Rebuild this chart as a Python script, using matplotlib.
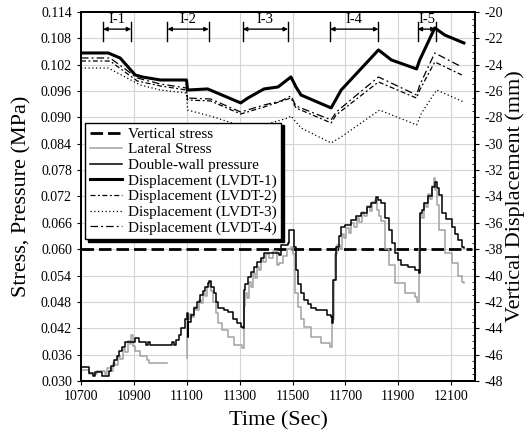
import numpy as np
import matplotlib
matplotlib.use('Agg')
import matplotlib.pyplot as plt

plt.rcParams['font.family'] = ['Liberation Serif', 'DejaVu Serif']
plt.rcParams['axes.unicode_minus'] = False

# vertical stress (MPa)
vs_time = [10700, 12180]
vs_val = [0.060, 0.060]

# lateral stress (MPa)
lat_time = [10700, 10725, 10730, 10760, 10790, 10800, 10812, 10820, 10830, 10840, 10848, 10858,
            10866, 10878, 10885, 10890, 10897, 10905, 10925, 10950, 10958, 11024, 11025, 11099,
            11100, 11102, 11112, 11120, 11128, 11136, 11145, 11152, 11162, 11170, 11178, 11184,
            11192, 11200, 11210, 11217, 11235, 11255, 11278, 11310, 11314, 11316, 11322, 11328,
            11335, 11342, 11350, 11358, 11366, 11374, 11382, 11390, 11398, 11410, 11425, 11440,
            11449, 11465, 11480, 11495, 11503, 11510, 11521, 11532, 11544, 11570, 11608, 11640,
            11648, 11650, 11655, 11662, 11670, 11678, 11686, 11694, 11702, 11712, 11722, 11732,
            11742, 11752, 11762, 11772, 11782, 11792, 11802, 11812, 11820, 11828, 11836, 11850,
            11863, 11886, 11924, 11962, 11969, 11975, 11978, 11983, 11990, 11997, 12004, 12012,
            12020, 12028, 12034, 12040, 12045, 12053, 12075, 12102, 12125, 12140, 12148]
lat_val = [0.0325, 0.0325, 0.0315, 0.0322, 0.0315, 0.0330, 0.0322, 0.0342, 0.0336, 0.0356, 0.0350, 0.0372,
           0.0366, 0.0392, 0.0385, 0.0405, 0.0380, 0.0368, 0.0356, 0.0348, 0.0341, 0.0341, np.nan, np.nan,
           0.0353, 0.0440, 0.0452, 0.0445, 0.0468, 0.0462, 0.0485, 0.0478, 0.0500, 0.0494, 0.0515, 0.0526,
           0.0505, 0.0480, 0.0455, 0.0432, 0.0415, 0.0400, 0.0382, 0.0375, 0.0375, 0.0470, 0.0500, 0.0490,
           0.0525, 0.0515, 0.0545, 0.0535, 0.0560, 0.0552, 0.0578, 0.0570, 0.0590, 0.0580, 0.0595, 0.0565,
           0.0568, 0.0585, 0.0600, 0.0605, 0.0590, 0.0500, 0.0469, 0.0440, 0.0423, 0.0400, 0.0387, 0.0378,
           0.0378, 0.0440, 0.0530, 0.0590, 0.0610, 0.0600, 0.0635, 0.0625, 0.0648, 0.0638, 0.0660, 0.0650,
           0.0672, 0.0662, 0.0685, 0.0675, 0.0698, 0.0688, 0.0708, 0.0712, 0.0690, 0.0675, 0.0665, 0.0600,
           0.0564, 0.0523, 0.0500, 0.0491, 0.0480, 0.0480, 0.0600, 0.0680, 0.0670, 0.0705, 0.0695, 0.0725,
           0.0715, 0.0745, 0.0762, 0.0735, 0.0700, 0.0644, 0.0591, 0.0569, 0.0540, 0.0526, 0.0523]

# double-wall pressure (MPa)
dw_time = [10700, 10727, 10730, 10746, 10753, 10772, 10780, 10795, 10805, 10815, 10825, 10835,
           10845, 10855, 10865, 10900, 10905, 10915, 10920, 10940, 10945, 10955, 10962, 11040,
           11045, 11050, 11060, 11070, 11080, 11092, 11100, 11103, 11106, 11115, 11126, 11140,
           11150, 11160, 11170, 11179, 11183, 11190, 11202, 11210, 11217, 11240, 11255, 11275,
           11290, 11304, 11312, 11316, 11322, 11331, 11342, 11354, 11366, 11380, 11392, 11430,
           11449, 11456, 11484, 11485, 11502, 11506, 11513, 11522, 11532, 11544, 11557, 11570,
           11590, 11620, 11630, 11646, 11649, 11652, 11654, 11665, 11675, 11684, 11700, 11722,
           11740, 11760, 11780, 11798, 11817, 11825, 11836, 11850, 11863, 11875, 11886, 11900,
           11912, 11935, 11962, 11977, 11979, 11981, 11990, 11999, 12012, 12026, 12038, 12045,
           12053, 12064, 12080, 12102, 12115, 12125, 12140, 12148]
dw_val = [0.0332, 0.0332, 0.0318, 0.0312, 0.0320, 0.0320, 0.0312, 0.0312, 0.0322, 0.0335, 0.0348, 0.0358,
          0.0368, 0.0378, 0.0389, 0.0389, 0.0398, 0.0398, 0.0389, 0.0389, 0.0382, 0.0389, 0.0382, 0.0382,
          0.0389, 0.0382, 0.0394, 0.0405, 0.0420, 0.0440, 0.0455, 0.0400, 0.0434, 0.0450, 0.0466, 0.0480,
          0.0495, 0.0505, 0.0515, 0.0523, 0.0528, 0.0515, 0.0500, 0.0480, 0.0466, 0.0462, 0.0457, 0.0440,
          0.0432, 0.0423, 0.0421, 0.0507, 0.0520, 0.0537, 0.0548, 0.0560, 0.0570, 0.0580, 0.0591, 0.0591,
          0.0587, 0.0610, 0.0614, 0.0644, 0.0644, 0.0605, 0.0553, 0.0520, 0.0500, 0.0485, 0.0475, 0.0466,
          0.0462, 0.0462, 0.0450, 0.0446, 0.0432, 0.0432, 0.0530, 0.0605, 0.0630, 0.0651, 0.0655, 0.0667,
          0.0675, 0.0683, 0.0695, 0.0705, 0.0719, 0.0712, 0.0705, 0.0672, 0.0644, 0.0615, 0.0591, 0.0575,
          0.0564, 0.0560, 0.0553, 0.0546, 0.0546, 0.0683, 0.0690, 0.0705, 0.0722, 0.0742, 0.0753, 0.0740,
          0.0723, 0.0683, 0.0668, 0.0651, 0.0635, 0.0620, 0.0605, 0.0603]

# displacements (mm)
lv1_time = [10700, 10803, 10848, 10905, 10932, 11000, 11099, 11103, 11179, 11304, 11331, 11392,
            11445, 11494, 11513, 11532, 11646, 11684, 11825, 11874, 11969, 11981, 12038, 12076, 12148]
lv1_val = [-23.11, -23.11, -23.49, -24.78, -24.93, -25.16, -25.16, -25.92, -25.84, -26.90, -26.53, -25.84,
           -25.69, -24.93, -25.69, -26.30, -27.28, -25.92, -22.88, -23.64, -24.32, -23.64, -21.21, -21.75, -22.35]

lv2_time = [10700, 10810, 10913, 11000, 11099, 11103, 11190, 11304, 11392, 11494, 11513, 11646,
            11665, 11825, 11969, 11981, 12038, 12140]
lv2_val = [-23.72, -23.72, -25.24, -25.61, -25.92, -26.68, -26.75, -27.74, -27.21, -26.53, -27.28, -28.42,
           -27.81, -25.31, -26.53, -25.92, -23.79, -24.78]

lv3_time = [10700, 10803, 10924, 11000, 11099, 11103, 11202, 11293, 11392, 11483, 11494, 11532,
            11646, 11684, 11829, 11969, 11988, 12045, 12148]
lv3_val = [-24.25, -24.25, -25.54, -25.92, -26.15, -27.44, -27.97, -28.57, -28.57, -28.04, -27.89, -28.80,
           -29.94, -29.48, -27.44, -28.57, -27.66, -25.92, -26.83]

lv4_time = [10700, 10810, 10913, 11000, 11099, 11103, 11190, 11304, 11392, 11456, 11494, 11513,
            11646, 11665, 11825, 11969, 11981, 12038, 12140]
lv4_val = [-23.49, -23.49, -25.01, -25.46, -25.77, -26.53, -26.60, -27.59, -27.06, -26.75, -26.37, -27.13,
           -28.19, -27.59, -24.93, -26.30, -25.54, -23.11, -24.17]

# loading intervals marked at the top
int_names = ['I-1', 'I-2', 'I-3', 'I-4', 'I-5']
int_start = [10784, 11027, 11312, 11642, 11973]
int_end = [10890, 11183, 11483, 11825, 12041]

fig = plt.figure(figsize=(5.29, 4.41), dpi=100)
ax = fig.add_axes([0.1531, 0.1361, 0.7448, 0.8367])
ax2 = ax.twinx()

l_vs, = ax.plot(vs_time, vs_val, color='black', lw=2, dashes=(4.5, 1.8), label='Vertical stress')
l_lat, = ax.plot(lat_time, lat_val, color='#a2a2a2', lw=1.1, drawstyle='steps-post', label='Lateral Stress')
l_dw, = ax.plot(dw_time, dw_val, color='black', lw=1.1, drawstyle='steps-post', label='Double-wall pressure')

l1, = ax2.plot(lv1_time, lv1_val, color='black', lw=2.2, label='Displacement (LVDT-1)')
l2, = ax2.plot(lv2_time, lv2_val, color='black', lw=0.9, dashes=(4, 2, 1.5, 2), label='Displacement (LVDT-2)')
l3, = ax2.plot(lv3_time, lv3_val, color='black', lw=0.9, dashes=(1, 2), label='Displacement (LVDT-3)')
l4, = ax2.plot(lv4_time, lv4_val, color='black', lw=0.9, dashes=(6, 2.5, 1.5, 2.5), label='Displacement (LVDT-4)')

# interval markers
for name, a, b in zip(int_names, int_start, int_end):
    ax.plot([a, a], [0.1074, 0.1117], color='black', lw=1)
    ax.plot([b, b], [0.1074, 0.1117], color='black', lw=1)
    ax.annotate('', xy=(b, 0.1101), xytext=(a, 0.1101),
                arrowprops=dict(arrowstyle='<|-|>', color='black', lw=1, mutation_scale=6,
                                shrinkA=0, shrinkB=0))
    ax.text((a + b) / 2, 0.1124, name, ha='center', va='center', fontsize=10.5)

ax.set_xlim(10700, 12190)
ax.set_ylim(0.030, 0.114)
ax.set_xticks(np.arange(10700, 12101, 200))
ax.set_yticks(np.arange(0.030, 0.1141, 0.006))
ax.set_yticklabels(['%.3f' % v for v in np.arange(0.030, 0.1141, 0.006)])
ax.grid(True, color='#d4d4d4', lw=0.8)
ax.set_axisbelow(True)
ax.tick_params(axis='both', labelsize=10, direction='out', length=3, width=0.8)

ax2.set_ylim(-48, -20)
ax2.set_yticks(np.arange(-48, -19, 2))
ax2.set_yticks(np.arange(-48, -19.9, 0.5), minor=True)
ax2.tick_params(axis='y', which='major', labelsize=10, direction='out', length=3, width=0.8)
ax2.tick_params(axis='y', which='minor', direction='in', length=2.5, width=0.6)

for a in (ax, ax2):
    for s in a.spines.values():
        s.set_linewidth(1.4)

ax.set_xlabel('Time (Sec)', fontsize=16, labelpad=6)
ax.set_ylabel('Stress, Pressure (MPa)', fontsize=16, labelpad=7)
ax2.set_ylabel('Vertical Displacement (mm)', fontsize=16, labelpad=2)

handles = [l_vs, l_lat, l_dw, l1, l2, l3, l4]
leg = ax2.legend(handles=handles, loc='upper left', bbox_to_anchor=(0.01, 0.70), borderaxespad=0,
                 fontsize=11, labelspacing=0.12, handlelength=2.1, handletextpad=0.4,
                 borderpad=0.3, fancybox=False, framealpha=1, edgecolor='black',
                 shadow={'color': 'black', 'alpha': 1})
leg.get_frame().set_linewidth(1)

fig.savefig('out.png', dpi=100)
